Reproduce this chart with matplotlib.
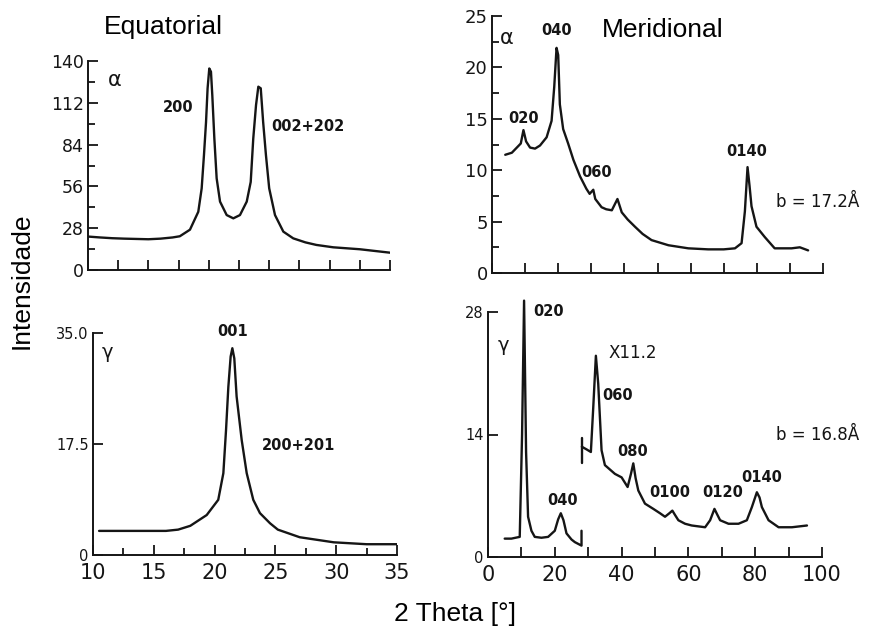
import numpy as np
import matplotlib
matplotlib.use('Agg')
import matplotlib.pyplot as plt
from matplotlib.ticker import MultipleLocator

# alpha, equatorial scan
eq_a_x = [10, 11, 12, 13, 14, 15, 16, 17.0, 17.6, 18.44, 19.13, 19.41, 19.6, 19.77, 19.9, 20.04,
          20.18, 20.29, 20.46, 20.65, 20.93, 21.48, 22.03, 22.58, 23.14, 23.47, 23.68, 23.91,
          24.1, 24.3, 24.5, 24.73, 25.0, 25.48, 26.17, 26.99, 28.0, 28.9, 30.3, 32.5, 35.0]
eq_a_y = [22.4, 21.8, 21.3, 21.0, 20.8, 20.6, 21.0, 21.8, 22.6, 27.0, 39, 54.7, 77, 99, 121.7,
          135, 132.8, 117, 88, 61.4, 45.8, 36.8, 34.6, 36.8, 45.8, 59, 88, 110.5,
          122.8, 121.7, 99, 77, 54.7, 36.8, 25.7, 21.2, 18.5, 16.8, 15.2, 13.9, 11.6]

# alpha, meridional scan
me_a_x = [4.0, 6.0, 7.5, 8.7, 9.5, 10.3, 11.5, 13.0, 14.5, 16.5, 18.0, 18.8, 19.5, 20.0, 20.5,
          21.5, 23.0, 24.6, 26.6, 28.5, 29.5, 30.6, 31.2, 33.1, 34.5, 36.2, 37.9, 39.2, 41.0,
          43.2, 45.5, 48.2, 53.3, 59.3, 65.3, 70.0, 73.4, 75.4, 76.4, 77.2, 77.8, 78.4, 79.9,
          82.4, 85.4, 88.0, 90.5, 93.0, 95.5]
me_a_y = [11.5, 11.7, 12.2, 12.6, 13.9, 12.8, 12.2, 12.1, 12.4, 13.2, 14.8, 18.1, 21.9, 21.2,
          16.4, 14.0, 12.6, 11.0, 9.4, 8.2, 7.7, 8.1, 7.2, 6.4, 6.2, 6.1, 7.2, 5.9, 5.2,
          4.5, 3.8, 3.2, 2.7, 2.4, 2.3, 2.3, 2.4, 2.9, 6.0, 10.3, 8.5, 6.5, 4.5,
          3.5, 2.4, 2.4, 2.4, 2.5, 2.2]

# gamma, equatorial scan
eq_g_x = [10.5, 12, 14, 16, 17.0, 18.0, 19.35, 20.3, 20.72, 20.94, 21.13, 21.32, 21.46, 21.62,
          21.81, 22.23, 22.64, 23.18, 23.73, 24.56, 25.2, 27.0, 29.8, 32.5, 35.0]
eq_g_y = [3.8, 3.8, 3.8, 3.8, 4.0, 4.6, 6.3, 8.7, 12.9, 19.7, 26.5, 31.3, 32.6, 31.0,
          25.0, 18.1, 12.9, 8.7, 6.6, 5.0, 4.0, 2.8, 2.0, 1.7, 1.7]

# gamma, meridional scan (first part as measured)
me_g_x = [5.0, 7.0, 9.5, 10.2, 10.8, 11.4, 12.0, 13.0, 14.0, 16.0, 18.0, 20.0, 21.0, 21.8,
          22.6, 23.5, 25.0, 26.0, 28.0, 28.0]
me_g_y = [2.1, 2.1, 2.3, 14.0, 29.3, 12.0, 4.6, 3.0, 2.3, 2.2, 2.3, 3.0, 4.3, 5.0, 4.2,
          2.7, 2.0, 1.7, 1.3, 3.0]
# second part, magnified x11.2
mag_x = [28.1, 29.5, 30.8, 31.5, 32.3, 33.0, 34.0, 35.0, 36.5, 38.0, 40.0, 41.8, 42.8, 43.5,
         44.2, 45.0, 47.0, 49.5, 51.5, 53.0, 54.3, 55.2, 56.0, 57.0, 59.0, 61.0, 65.0, 66.5,
         67.8, 68.7, 69.5, 72.0, 75.0, 77.5, 79.0, 80.5, 81.3, 82.0, 84.0, 87.0, 91.0, 95.5]
mag_y = [12.6, 12.3, 12.0, 17.0, 23.0, 19.8, 12.2, 10.5, 10.0, 9.5, 9.1, 8.0, 9.5, 10.7,
         9.0, 7.6, 6.1, 5.5, 5.0, 4.6, 5.0, 5.3, 4.8, 4.2, 3.8, 3.6, 3.4, 4.2, 5.5, 4.8,
         4.2, 3.8, 3.8, 4.2, 5.7, 7.4, 6.8, 5.7, 4.2, 3.4, 3.4, 3.6]
sep_x = [28.0, 28.0]
sep_y = [10.7, 13.6]

INK = '#151515'
W, H = 870, 629
fig = plt.figure(figsize=(W / 100, H / 100), dpi=100)


def px_axes(l, r, b, t):
    ax = fig.add_axes([l / W, 1 - b / H, (r - l) / W, (b - t) / H])
    ax.spines['top'].set_visible(False)
    ax.spines['right'].set_visible(False)
    for s in ('left', 'bottom'):
        ax.spines[s].set_linewidth(1.4)
        ax.spines[s].set_color(INK)
    ax.tick_params(which='both', direction='in', color=INK, width=1.3, labelcolor=INK)
    ax.tick_params(which='major', length=7)
    ax.tick_params(which='minor', length=5)
    return ax


line = dict(color=INK, lw=1.7, solid_joinstyle='round', solid_capstyle='round')
txt = dict(color=INK, fontsize=10.5, fontweight='bold', ha='center', va='center')

# top left
ax1 = px_axes(88, 390, 270, 61)
ax1.plot(eq_a_x, eq_a_y, **line)
ax1.set_xlim(10, 35)
ax1.set_ylim(0, 140)
ax1.xaxis.set_major_locator(MultipleLocator(2.5))
ax1.set_xticklabels([])
ax1.yaxis.set_major_locator(MultipleLocator(28))
ax1.yaxis.set_minor_locator(MultipleLocator(14))
ax1.tick_params(axis='y', labelsize=12.5, pad=3)
ax1.text(12.2, 127, 'α', color=INK, fontsize=15, ha='center', va='center')
ax1.text(17.5, 109, '200', **txt)
ax1.text(28.2, 96, '002+202', **txt)

# top right
ax2 = px_axes(492, 823, 273, 16)
ax2.plot(me_a_x, me_a_y, **line)
ax2.set_xlim(0, 100)
ax2.set_ylim(0, 25)
ax2.xaxis.set_major_locator(MultipleLocator(10))
ax2.set_xticklabels([])
ax2.yaxis.set_major_locator(MultipleLocator(5))
ax2.yaxis.set_minor_locator(MultipleLocator(2.5))
ax2.tick_params(axis='y', labelsize=13, pad=3)
ax2.text(4.5, 22.9, 'α', color=INK, fontsize=15, ha='center', va='center')
ax2.text(19.6, 23.6, '040', **txt)
ax2.text(9.4, 15.0, '020', **txt)
ax2.text(31.7, 9.8, '060', **txt)
ax2.text(77, 11.8, '0140', **txt)
ax2.text(98.5, 6.9, 'b = 17.2Å', color=INK, fontsize=12, ha='center', va='center')

# bottom left
ax3 = px_axes(93, 397, 555, 333)
ax3.plot(eq_g_x, eq_g_y, **line)
ax3.set_xlim(10, 35)
ax3.set_ylim(0, 35)
ax3.xaxis.set_major_locator(MultipleLocator(5))
ax3.xaxis.set_minor_locator(MultipleLocator(2.5))
ax3.set_yticks([0, 17.5, 35])
ax3.set_yticklabels(['0', '17.5', '35.0'])
ax3.tick_params(axis='y', labelsize=10.5, pad=3)
ax3.tick_params(axis='x', labelsize=15, pad=6)
ax3.text(11.2, 32, 'γ', color=INK, fontsize=14, ha='center', va='center')
ax3.text(21.5, 35.2, '001', **txt)
ax3.text(26.9, 17.3, '200+201', **txt)

# bottom right
ax4 = px_axes(488, 822, 557, 312)
ax4.plot(me_g_x, me_g_y, clip_on=False, **line)
ax4.plot(mag_x, mag_y, **line)
ax4.plot(sep_x, sep_y, **line)
ax4.set_xlim(0, 100)
ax4.set_ylim(0, 28)
ax4.xaxis.set_major_locator(MultipleLocator(20))
ax4.xaxis.set_minor_locator(MultipleLocator(10))
ax4.tick_params(which='minor', length=7)
ax4.set_yticks([0, 14, 28])
ax4.tick_params(axis='y', labelsize=10.5, pad=3)
ax4.tick_params(axis='x', labelsize=15, pad=6)
ax4.text(4.5, 24.2, 'γ', color=INK, fontsize=14, ha='center', va='center')
ax4.text(18, 28, '020', **txt)
ax4.text(43.4, 23.3, 'X11.2', color=INK, fontsize=12, ha='center', va='center')
ax4.text(38.9, 18.5, '060', **txt)
ax4.text(43.4, 12, '080', **txt)
ax4.text(22.2, 6.5, '040', **txt)
ax4.text(54.5, 7.4, '0100', **txt)
ax4.text(70.4, 7.4, '0120', **txt)
ax4.text(82, 9.1, '0140', **txt)
ax4.text(98.8, 13.9, 'b = 16.8Å', color=INK, fontsize=12, ha='center', va='center')

# titles and shared labels
font = 'Liberation Sans'
fig.text(163 / W, 1 - 27 / H, 'Equatorial', fontsize=19, family=font, ha='center', va='center')
fig.text(663 / W, 1 - 30 / H, 'Meridional', fontsize=19, family=font, ha='center', va='center')
fig.text(22 / W, 1 - 281 / H, 'Intensidade', fontsize=19, family=font, rotation=90,
         ha='center', va='center')
fig.text(455 / W, 1 - 614 / H, '2 Theta [°]', fontsize=19, family=font, ha='center', va='center')

fig.savefig('out.png', dpi=100, facecolor='white')
